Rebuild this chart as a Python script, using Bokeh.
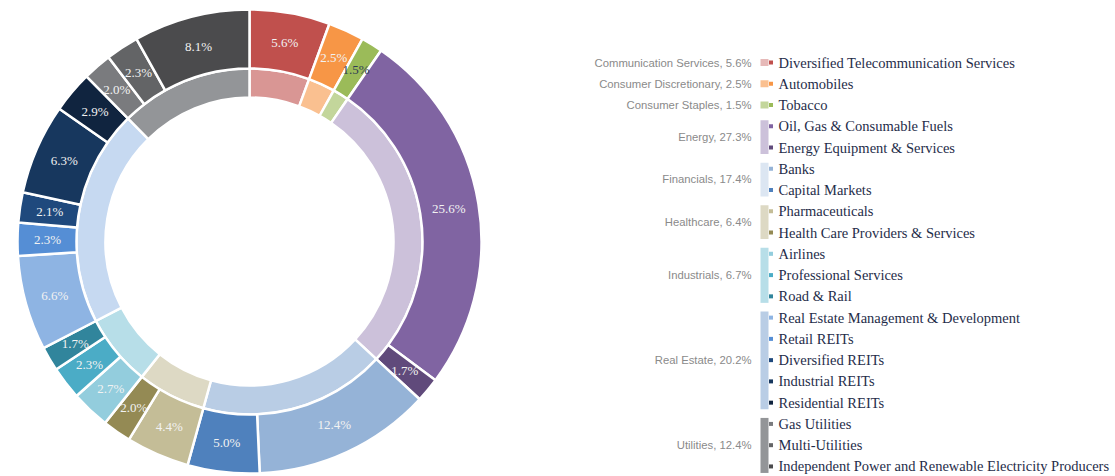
import numpy as np
from bokeh.plotting import figure
from bokeh.models import Range1d, ColumnDataSource
from bokeh.core.properties import value
from bokeh.embed import file_html
from bokeh.resources import INLINE

# ---------------- data ----------------
sectors = ["Communication Services", "Consumer Discretionary", "Consumer Staples",
           "Energy", "Financials", "Healthcare", "Industrials", "Real Estate", "Utilities"]
sector_values = [5.6, 2.5, 1.5, 27.3, 17.4, 6.4, 6.7, 20.2, 12.4]

industries = ["Diversified Telecommunication Services", "Automobiles", "Tobacco",
              "Oil, Gas & Consumable Fuels", "Energy Equipment & Services",
              "Banks", "Capital Markets",
              "Pharmaceuticals", "Health Care Providers & Services",
              "Airlines", "Professional Services", "Road & Rail",
              "Real Estate Management & Development", "Retail REITs", "Diversified REITs",
              "Industrial REITs", "Residential REITs",
              "Gas Utilities", "Multi-Utilities",
              "Independent Power and Renewable Electricity Producers"]
industry_sector = [0, 1, 2, 3, 3, 4, 4, 5, 5, 6, 6, 6, 7, 7, 7, 7, 7, 8, 8, 8]
industry_values = [5.6, 2.5, 1.5, 25.6, 1.7, 12.4, 5.0, 4.4, 2.0, 2.7, 2.3, 1.7,
                   6.6, 2.3, 2.1, 6.3, 2.9, 2.0, 2.3, 8.1]

# ---------------- styles ----------------
sector_ring_colors = ["#d99694", "#fac090", "#c3d69b", "#ccc1da", "#b9cde5",
                      "#ddd9c4", "#b7dee8", "#c6d9f1", "#939598"]
sector_bar_colors = ["#e6b9b8", "#fac090", "#c3d69b", "#ccc1da", "#dce6f2",
                     "#ddd9c4", "#b7dee8", "#b9cde5", "#939598"]
industry_colors = ["#c0504d", "#f79646", "#9bbb59", "#8064a2", "#604a7b",
                   "#95b3d7", "#4f81bd", "#c4bd97", "#948a54",
                   "#93cddd", "#4bacc6", "#31859c",
                   "#8eb4e3", "#558ed5", "#1f497d", "#17375e", "#10243f",
                   "#7a7b7e", "#636466", "#4b4b4d"]
label_colors = ["#f2f2f2"] * len(industries)
label_colors[2] = "#2f3d55"

W, H = 1115, 476
p = figure(width=W, height=H, output_backend="svg", toolbar_location=None,
           x_range=Range1d(0, W), y_range=Range1d(-H, 0),
           x_axis_location=None, y_axis_location=None, min_border=0)
p.grid.visible = False
p.outline_line_color = None
p.background_fill_color = "white"
p.border_fill_color = "white"

cx, cy = 249, -241
r_in0, r_in1, r_out1 = 144, 173, 232


def angles(vals):
    c = np.concatenate([[0], np.cumsum(vals)]) / sum(vals)
    start = np.pi / 2 - 2 * np.pi * c[1:]
    end = np.pi / 2 - 2 * np.pi * c[:-1]
    return start, end, (start + end) / 2


s_start, s_end, _ = angles(sector_values)
p.annular_wedge(x=cx, y=cy, inner_radius=r_in0, outer_radius=r_in1,
                start_angle=s_start, end_angle=s_end,
                fill_color=sector_ring_colors, line_color="white", line_width=2.5)

i_start, i_end, i_mid = angles(industry_values)
p.annular_wedge(x=cx, y=cy, inner_radius=r_in1, outer_radius=r_out1,
                start_angle=i_start, end_angle=i_end,
                fill_color=industry_colors, line_color="white", line_width=2.5)

r_lab = 202
lab_src = ColumnDataSource(dict(
    x=cx + r_lab * np.cos(i_mid), y=cy + r_lab * np.sin(i_mid),
    t=[f"{v:.1f}%" for v in industry_values], c=label_colors))
p.text(x="x", y="y", text="t", source=lab_src, text_color="c",
       text_font=value("Liberation Serif"), text_font_size="13px",
       text_align="center", text_baseline="middle")

# ---------------- legend ----------------
row0, step = 62, 21.26
rows_y = np.array([row0 + i * step for i in range(len(industries))])

p.text(x=[778] * len(industries), y=-rows_y, text=industries,
       text_color="#1f2d4a", text_font=value("Liberation Serif"),
       text_font_size="14.5px", text_align="left", text_baseline="middle")
p.rect(x=[770.5] * len(industries), y=-rows_y, width=4, height=4,
       fill_color=industry_colors, line_color=None)

bar_top, bar_bot, lab_y = [], [], []
for s in range(len(sectors)):
    ys = rows_y[[i for i, k in enumerate(industry_sector) if k == s]]
    if len(ys) == 1:
        bar_top.append(-(ys[0] - 3.5)); bar_bot.append(-(ys[0] + 3.5))
    else:
        bar_top.append(-(ys[0] - 6)); bar_bot.append(-(ys[-1] + 6.5))
    lab_y.append(-ys.mean())

p.quad(left=760, right=768, top=bar_top, bottom=bar_bot,
       fill_color=sector_bar_colors, line_color=None)
p.text(x=[751] * len(sectors), y=lab_y,
       text=[f"{n}, {v}%" for n, v in zip(sectors, sector_values)],
       text_color="#8a8a8a", text_font=value("Liberation Sans"),
       text_font_size="11.3px", text_align="right", text_baseline="middle")

open("out.html", "w").write(file_html(p, INLINE))
